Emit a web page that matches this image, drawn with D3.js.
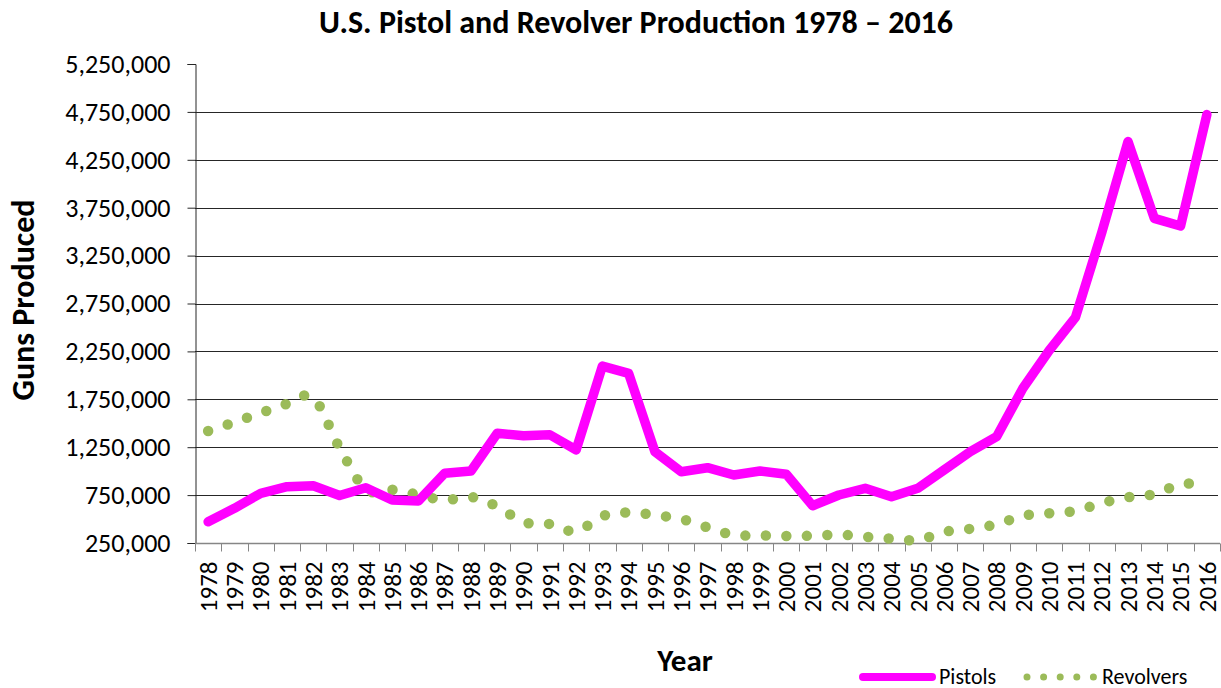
<!DOCTYPE html>
<html>
    <head>
        <meta charset='utf-8'>
        <title>U.S. Pistol and Revolver Production</title>
        <script src='https://d3js.org/d3.v7.min.js'></script>
        <style>
            body { margin: 0; background: #fff; }
            text { font-family: Carlito, Calibri, 'Open Sans', sans-serif; fill: #000; }
        </style>
    </head>
    <body>
        <script type="text/javascript">

            var years = d3.range(1978, 2017);

            var pistols = [472000, 612000, 769000, 838000, 848000, 746000, 827000, 699000, 688000, 977000,
                           1001000, 1395000, 1370000, 1380000, 1221000, 2097000, 2020000, 1203000, 994000, 1036000,
                           960000, 1001000, 967000, 639000, 751000, 821000, 733000, 821000, 1012000, 1203000,
                           1360000, 1865000, 2260000, 2605000, 3490000, 4440000, 3639000, 3559000, 4722000];

            var revolvers = [1419000, 1511000, 1607000, 1703000, 1767000, 1245000, 810000, 806000, 753000, 699000,
                             730000, 631000, 469000, 448000, 372000, 530000, 570000, 542000, 500000, 414000,
                             334000, 330000, 323000, 326000, 337000, 316000, 295000, 281000, 365000, 399000,
                             445000, 535000, 560000, 585000, 667000, 727000, 761000, 863000, 870000];

            var yTicks = d3.range(250000, 5250001, 500000);

            var width = 1221;
            var height = 688;
            var plotLeft = 195, plotRight = 1220, plotTop = 64, plotBottom = 543;

            var svg = d3.select('body')
                        .append('svg')
                        .attr('width', width)
                        .attr('height', height);

            var x = d3.scaleBand().domain(years).range([plotLeft, plotRight]).padding(0);
            var y = d3.scaleLinear().domain([250000, 5250000]).range([plotBottom, plotTop]);
            var cx = function(d, i) { return x(years[i]) + x.bandwidth() / 2; };

            // gridlines (no line at the top value)
            svg.append("g")
              .selectAll("line")
              .data(yTicks.filter(function(d) { return d > 250000 && d < 5250000; }))
              .enter().append("line")
                .attr("x1", plotLeft)
                .attr("x2", plotRight - 2)
                .attr("y1", function(d) { return Math.round(y(d)) + 0.5; })
                .attr("y2", function(d) { return Math.round(y(d)) + 0.5; })
                .attr("stroke", "#262626")
                .attr("stroke-width", 1);

            // y axis
            var yAxis = svg.append("g")
                .attr("transform", "translate(" + (plotLeft + 0.5) + ",0)")
                .call(d3.axisLeft(y).tickValues(yTicks).tickFormat(d3.format(",")).tickSize(8).tickPadding(17));
            yAxis.select(".domain").attr("stroke", "#262626");
            yAxis.selectAll(".tick line").attr("stroke", "#262626");
            yAxis.selectAll("text").style("font-size", "26px").style("font-family", null);

            // x axis
            var xAxis = svg.append("g")
                .attr("transform", "translate(0," + (plotBottom + 0.5) + ")");
            xAxis.append("line")
                .attr("x1", plotLeft).attr("x2", plotRight)
                .attr("stroke", "#868686").attr("stroke-width", 1.5);
            xAxis.selectAll(".tk")
              .data(d3.range(years.length + 1))
              .enter().append("line")
                .attr("class", "tk")
                .attr("x1", function(d) { return Math.round(plotLeft + d * x.bandwidth()) + 0.5; })
                .attr("x2", function(d) { return Math.round(plotLeft + d * x.bandwidth()) + 0.5; })
                .attr("y1", 0).attr("y2", 8)
                .attr("stroke", "#868686");
            xAxis.selectAll("text")
              .data(years)
              .enter().append("text")
                .attr("transform", function(d) {
                  return "translate(" + (x(d) + x.bandwidth() / 2) + ",18) rotate(-90)";
                })
                .attr("dy", "0.35em")
                .attr("text-anchor", "end")
                .style("font-size", "25px")
                .text(function(d) { return d; });

            // lines
            var pistolLine = d3.line()
                .x(cx)
                .y(function(d) { return y(d); });

            var revolverLine = d3.line()
                .x(cx)
                .y(function(d) { return y(d); })
                .curve(d3.curveCardinal.tension(0));

            svg.append("path")
                .datum(revolvers)
                .attr("d", revolverLine)
                .attr("fill", "none")
                .attr("stroke", "#9BBB59")
                .attr("stroke-width", 10.5)
                .attr("stroke-linecap", "round")
                .attr("stroke-dasharray", "0 20.5");

            svg.append("path")
                .datum(pistols)
                .attr("d", pistolLine)
                .attr("fill", "none")
                .attr("stroke", "#FF00FF")
                .attr("stroke-width", 9.5)
                .attr("stroke-linejoin", "round")
                .attr("stroke-linecap", "round");

            // titles
            svg.append("text")
                .attr("x", 636)
                .attr("y", 33)
                .attr("text-anchor", "middle")
                .style("font-size", "32px")
                .style("font-weight", "bold")
                .text("U.S. Pistol and Revolver Production 1978 \u2013 2016");

            svg.append("text")
                .attr("transform", "translate(34,300) rotate(-90)")
                .attr("text-anchor", "middle")
                .style("font-size", "32px")
                .style("font-weight", "bold")
                .text("Guns Produced");

            svg.append("text")
                .attr("x", 685)
                .attr("y", 671)
                .attr("text-anchor", "middle")
                .style("font-size", "31px")
                .style("font-weight", "bold")
                .text("Year");

            // legend
            var legend = svg.append("g");
            legend.append("line")
                .attr("x1", 863).attr("x2", 932)
                .attr("y1", 677).attr("y2", 677)
                .attr("stroke", "#FF00FF")
                .attr("stroke-width", 8)
                .attr("stroke-linecap", "round");
            legend.append("text")
                .attr("x", 939).attr("y", 676)
                .attr("dy", "0.35em")
                .style("font-size", "22px")
                .text("Pistols");
            legend.append("line")
                .attr("x1", 1027).attr("x2", 1094)
                .attr("y1", 677).attr("y2", 677)
                .attr("stroke", "#9BBB59")
                .attr("stroke-width", 7)
                .attr("stroke-linecap", "round")
                .attr("stroke-dasharray", "0 16.6");
            legend.append("text")
                .attr("x", 1102).attr("y", 676)
                .attr("dy", "0.35em")
                .style("font-size", "22px")
                .text("Revolvers");

        </script>
    </body>
</html>
